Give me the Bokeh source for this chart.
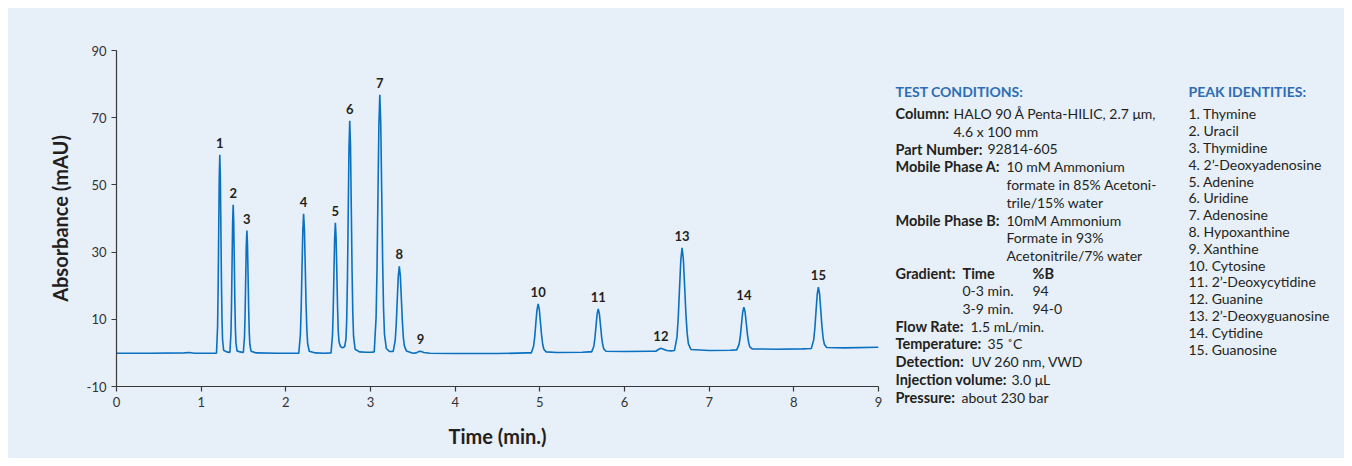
from bokeh.plotting import figure
from bokeh.models import Range1d, FixedTicker
from bokeh.layouts import row
from bokeh.embed import file_html
from bokeh.resources import INLINE
from bokeh.core.properties import value

# ---------------- data ----------------
time_min = [
    0.00, 0.40, 0.80, 0.86, 0.92, 1.15,
    1.181, 1.194, 1.2005, 1.207, 1.2135, 1.220, 1.2265, 1.233, 1.2395, 1.246, 1.2525, 1.2655, 1.30,
    1.339, 1.352, 1.3585, 1.365, 1.3715, 1.378, 1.3845, 1.391, 1.3975, 1.404, 1.4105, 1.4235, 1.46,
    1.498, 1.512, 1.519, 1.526, 1.533, 1.540, 1.547, 1.554, 1.561, 1.568, 1.575, 1.589,
    1.65, 1.90, 2.10,
    2.153, 2.172, 2.1815, 2.191, 2.2005, 2.210, 2.2195, 2.229, 2.2385, 2.248, 2.2575, 2.2765,
    2.35, 2.45,
    2.534, 2.551, 2.5595, 2.568, 2.5765, 2.585, 2.5935, 2.602, 2.6105, 2.619, 2.6275, 2.645, 2.670, 2.695,
    2.710, 2.719, 2.728, 2.737, 2.746, 2.755, 2.764, 2.773, 2.782, 2.791, 2.800, 2.818,
    2.87, 2.95, 3.01,
    3.044, 3.066, 3.077, 3.088, 3.099, 3.110, 3.121, 3.132, 3.143, 3.154, 3.165, 3.187, 3.225,
    3.268, 3.292, 3.304, 3.316, 3.328, 3.340, 3.352, 3.364, 3.376, 3.388, 3.400, 3.424, 3.50,
    3.54, 3.56, 3.58, 3.60, 3.63, 3.70,
    4.00, 4.50, 4.85,
    4.899, 4.926, 4.9395, 4.953, 4.9665, 4.980, 4.9935, 5.007, 5.0205, 5.034, 5.0475, 5.0745,
    5.20, 5.50, 5.58,
    5.612, 5.638, 5.651, 5.664, 5.677, 5.690, 5.703, 5.716, 5.729, 5.742, 5.755, 5.781,
    6.00, 6.30,
    6.37, 6.40, 6.43, 6.46, 6.50, 6.55,
    6.59, 6.62, 6.635, 6.65, 6.665, 6.680, 6.695, 6.710, 6.725, 6.740, 6.755, 6.785,
    7.00, 7.25,
    7.326, 7.354, 7.368, 7.382, 7.396, 7.410, 7.424, 7.438, 7.452, 7.466, 7.480, 7.508,
    7.80, 8.10,
    8.206, 8.234, 8.248, 8.262, 8.276, 8.290, 8.304, 8.318, 8.332, 8.346, 8.360, 8.388,
    8.60, 9.00,
]
absorbance = [
    -0.1, -0.1, 0.0, 0.1, -0.1, -0.1,
    -0.1, 7.9, 19.1, 35.8, 51.9, 59.0, 52.5, 37.1, 21.2, 9.9, 4.0, 0.8, 0.3,
    0.1, 5.9, 14.3, 26.7, 38.8, 44.1, 39.2, 27.7, 15.8, 7.4, 3.0, 0.6, 0.3,
    0.1, 4.8, 11.8, 22.1, 32.0, 36.4, 32.4, 22.9, 13.1, 6.1, 2.5, 0.5,
    0.0, -0.1, -0.1,
    -0.1, 5.5, 13.4, 25.1, 36.4, 41.4, 36.8, 26.0, 14.8, 7.0, 2.8, 0.5,
    0.0, -0.1,
    0.0, 5.2, 12.6, 23.5, 34.1, 38.7, 34.4, 24.4, 13.9, 6.6, 3.4, 1.9, 1.5, 1.9,
    4.0, 9.8, 22.5, 42.0, 60.8, 69.1, 61.4, 43.5, 24.9, 11.8, 4.9, 1.1,
    0.3, 0.2, 0.2,
    0.3, 10.5, 25.1, 46.7, 67.6, 76.8, 68.4, 48.5, 27.8, 13.2, 5.6, 1.3, 0.4,
    0.4, 3.7, 8.6, 15.8, 22.7, 25.8, 23.0, 16.4, 9.5, 4.6, 2.1, 0.6, -0.1,
    0.0, 0.3, 0.5, 0.4, 0.1, -0.1,
    -0.2, -0.2, 0.0,
    0.0, 2.0, 4.7, 8.9, 12.8, 14.6, 13.0, 9.2, 5.3, 2.5, 1.1, 0.3,
    0.1, 0.2, 0.3,
    0.3, 2.0, 4.5, 8.1, 11.6, 13.1, 11.7, 8.4, 4.9, 2.5, 1.2, 0.5,
    0.4, 0.5,
    0.5, 1.0, 1.4, 1.1, 0.7, 0.6,
    0.7, 4.7, 10.6, 19.2, 27.6, 31.3, 27.9, 20.0, 11.7, 5.8, 2.7, 1.0,
    0.7, 0.8,
    0.9, 2.6, 5.0, 8.6, 12.1, 13.6, 12.2, 8.9, 5.5, 3.1, 1.8, 1.2,
    1.1, 1.2,
    1.3, 3.8, 7.2, 12.4, 17.4, 19.6, 17.6, 12.8, 7.9, 4.4, 2.6, 1.6,
    1.5, 1.7,
]

peak_labels = ["1", "2", "3", "4", "5", "6", "7", "8", "9", "10",
               "11", "12", "13", "14", "15"]
peak_times = [1.220, 1.378, 1.540, 2.210, 2.585, 2.755, 3.110, 3.340, 3.590,
              4.980, 5.690, 6.430, 6.680, 7.410, 8.290]
peak_heights = [59.0, 44.1, 36.4, 41.4, 38.7, 69.1, 76.8, 25.8, 0.5,
                14.6, 13.1, 1.4, 31.3, 13.6, 19.6]

x_ticks = [0, 1, 2, 3, 4, 5, 6, 7, 8, 9]
y_ticks = [-10, 10, 30, 50, 70, 90]
y_tick_labels = ["-10", "10", "30", "50", "70", "90"]

x_title = "Time (min.)"
y_title = "Absorbance (mAU)"

cond_title = "TEST CONDITIONS:"
cond_bold = ["Column:", "Part Number:", "Mobile Phase A:", "Mobile Phase B:",
             "Gradient:", "Time", "%B", "Flow Rate:", "Temperature:",
             "Detection:", "Injection volume:", "Pressure:"]
cond_normal = ["HALO 90 Å Penta-HILIC, 2.7 μm,", "4.6 x 100 mm", "92814-605",
               "10 mM Ammonium", "formate in 85% Acetoni-", "trile/15% water",
               "10mM Ammonium", "Formate in 93%", "Acetonitrile/7% water",
               "0-3 min.", "94", "3-9 min.", "94-0", "1.5 mL/min.", "35 ˚C",
               "UV 260 nm, VWD", "3.0 μL", "about 230 bar"]

id_title = "PEAK IDENTITIES:"
peak_names = ["1. Thymine", "2. Uracil", "3. Thymidine", "4. 2’-Deoxyadenosine",
              "5. Adenine", "6. Uridine", "7. Adenosine", "8. Hypoxanthine",
              "9. Xanthine", "10. Cytosine", "11. 2’-Deoxycytidine", "12. Guanine",
              "13. 2’-Deoxyguanosine", "14. Cytidine", "15. Guanosine"]

# ---------------- layout / style ----------------
BG = "#E7EFF8"
TRACE = "#0A70C0"
INK = "#231F20"
HEAD = "#2C6DB5"
FONT = "Lato"
PANEL_SIZE = "14px"
BOLD_SIZE = "14.5px"

# rows and x positions (page pixels) of the conditions panel
bold_rows = [0, 2, 3, 6, 9, 9, 9, 12, 13, 14, 15, 16]
bold_x = [895, 895, 895, 895, 895, 962, 1032, 895, 895, 895, 895, 895]
normal_rows = [0, 1, 2, 3, 4, 5, 6, 7, 8, 10, 10, 11, 11, 12, 13, 14, 15, 16]
normal_x = [953, 953, 987, 1006, 1006, 1006, 1006, 1006, 1006, 962, 1032, 962,
            1032, 970, 987, 971, 1011, 961]
COND_X = 895
ID_X = 1188
HEAD_Y = 91
ROW_Y0 = 113.3
ROW_H = 17.7
ID_H = 16.8

p = figure(width=880, height=450, x_range=Range1d(0, 9), y_range=Range1d(-10, 90),
           output_backend="svg", toolbar_location=None,
           min_border_left=108, min_border_right=10, min_border_top=42,
           min_border_bottom=72)
p.background_fill_color = BG
p.border_fill_color = BG
p.outline_line_color = None
p.grid.visible = False

p.xaxis.ticker = FixedTicker(ticks=x_ticks)
p.yaxis.ticker = FixedTicker(ticks=y_ticks)
p.yaxis.major_label_overrides = {t: s for t, s in zip(y_ticks, y_tick_labels)}
for ax in (p.xaxis[0], p.yaxis[0]):
    ax.minor_tick_line_color = None
    ax.major_tick_in = 0
    ax.major_tick_out = 5
    ax.axis_line_color = "#3A3A3A"
    ax.axis_line_width = 1.2
    ax.major_tick_line_color = "#3A3A3A"
    ax.major_tick_line_width = 1.2
    ax.major_label_text_font = FONT
    ax.major_label_text_font_size = "13px"
    ax.major_label_text_color = "#333333"
    ax.axis_label_text_font = FONT
    ax.axis_label_text_font_size = "20px"
    ax.axis_label_text_font_style = "bold"
    ax.axis_label_text_color = INK
p.xaxis.axis_label = x_title
p.yaxis.axis_label = y_title
p.xaxis.axis_label_standoff = 14
p.yaxis.axis_label_standoff = 12
p.xaxis.major_label_standoff = 5
p.yaxis.major_label_standoff = 5

p.line(time_min, absorbance, line_color=TRACE, line_width=1.6)
p.text(x=peak_times, y=peak_heights, text=peak_labels,
       text_font=value(FONT), text_font_style="bold", text_font_size="13px",
       text_color=INK, text_align="center", text_baseline="bottom", y_offset=-7)

# ---------------- right-hand text panel (page-pixel coordinates) ----------------
q = figure(width=456, height=450, x_range=Range1d(888, 1344), y_range=Range1d(458, 8),
           output_backend="svg", toolbar_location=None, title=None,
           x_axis_location=None, y_axis_location=None,
           min_border_left=0, min_border_right=0, min_border_top=0, min_border_bottom=0)
q.frame_align = False
q.background_fill_color = BG
q.border_fill_color = BG
q.outline_line_color = None
q.grid.visible = False


def panel(xs, ys, texts, color, style, size):
    q.text(x=xs, y=ys, text=texts, text_font=value(FONT), text_font_style=style,
           text_font_size=size, text_color=color,
           text_align="left", text_baseline="middle")


panel([COND_X, ID_X], [HEAD_Y, HEAD_Y], [cond_title, id_title], HEAD, "bold", PANEL_SIZE)
panel(bold_x, [ROW_Y0 + r * ROW_H for r in bold_rows], cond_bold, INK, "bold", BOLD_SIZE)
panel(normal_x, [ROW_Y0 + r * ROW_H for r in normal_rows], cond_normal, INK, "normal",
      PANEL_SIZE)
panel([ID_X] * len(peak_names), [ROW_Y0 + i * ID_H for i in range(len(peak_names))],
      peak_names, INK, "normal", PANEL_SIZE)

layout = row(p, q)
layout.margin = (8, 8, 8, 8)
layout.styles = {"background-color": BG}
open("out.html", "w").write(file_html(layout, INLINE))
